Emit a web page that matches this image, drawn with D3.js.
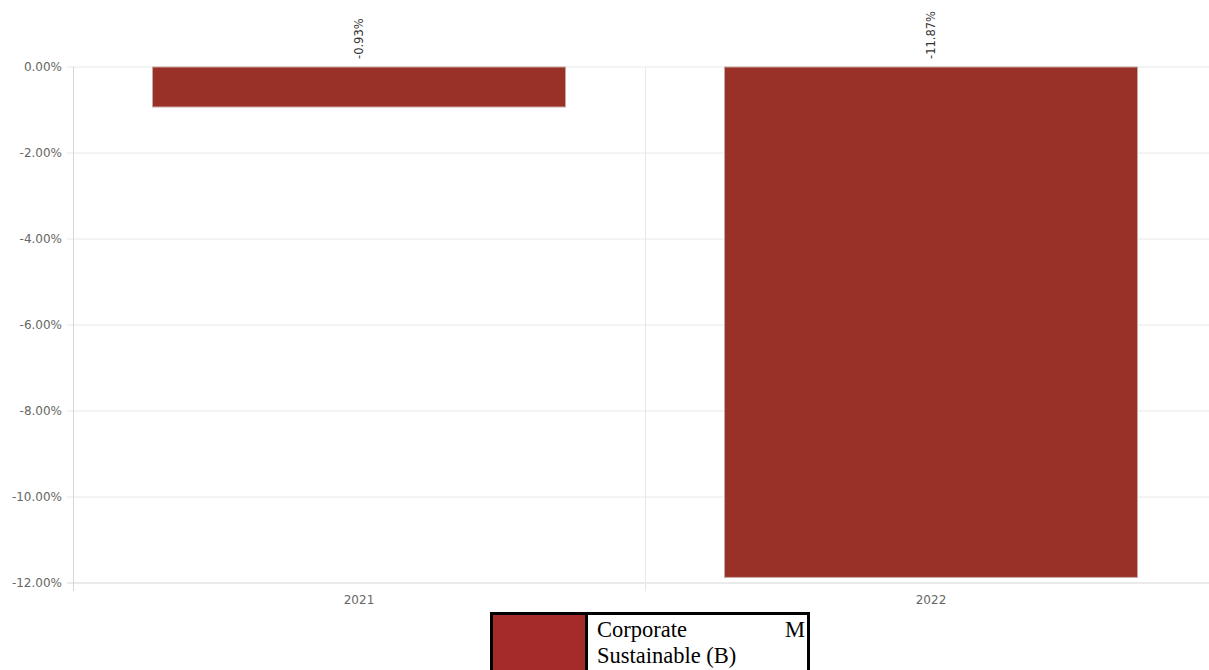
<!DOCTYPE html>
<html>
<head>
<meta charset="utf-8">
<script src="https://cdn.jsdelivr.net/npm/d3@7"></script>
<style>
    body { margin: 0; overflow: hidden; background: #fff; }
    #wrapper { position: relative; width: 1209px; height: 670px; }
    .legend {
        position: absolute;
        left: 490px;
        top: 612px;
        border-collapse: collapse;
        border: 3px solid #000;
        font-family: "Liberation Serif", serif;
        font-size: 22.5px;
        line-height: 26px;
    }
    .legend td { border: 3px solid #000; padding: 0; vertical-align: top; }
    .legend .swatch { width: 92px; height: 60px; background: #a52a2a; }
    .legend .label { width: 208px; padding: 2px 2px 0 9px; text-align: justify; }
</style>
</head>
<body>
<div id="wrapper"></div>
<script>
const years = ["2021", "2022"];
const values = [-0.93, -11.87];
const yTicks = [0, -2, -4, -6, -8, -10, -12];
const seriesName = "Corporate M Sustainable (B)";

let dimension = {
    width: 1209,
    height: 670,
    margin: { top: 67, left: 73, bottom: 87, right: -8 }
}
dimension.boundedWidth = dimension.width - dimension.margin.left - dimension.margin.right;
dimension.boundedHeight = dimension.height - dimension.margin.top - dimension.margin.bottom;

const pct = d => d.toFixed(2) + "%";

function buildPlot() {
    const wrapper = d3.select("#wrapper");

    const svg = wrapper.append("svg")
        .attr("width", dimension.width)
        .attr("height", dimension.height)
        .style("position", "absolute")
        .style("left", 0)
        .style("top", 0);

    const bounds = svg.append("g")
        .attr("transform", `translate(${dimension.margin.left},${dimension.margin.top})`);

    const xScale = d3.scaleBand()
        .domain(years)
        .range([0, dimension.boundedWidth])
        .paddingInner(0.278)
        .paddingOuter(0.139);

    const band = d3.scaleBand()
        .domain(years)
        .range([0, dimension.boundedWidth]);

    const yScale = d3.scaleLinear()
        .domain([0, -12])
        .range([0, dimension.boundedHeight]);

    // horizontal grid
    bounds.append("g")
        .selectAll("line")
        .data(yTicks)
        .enter()
        .append("line")
        .attr("x1", -6)
        .attr("x2", dimension.boundedWidth)
        .attr("y1", d => yScale(d))
        .attr("y2", d => yScale(d))
        .attr("stroke", d => d === -12 ? "#d6d6d6" : "#e8e8e8")
        .attr("stroke-width", 1);

    // vertical grid at band edges
    bounds.append("g")
        .selectAll("line")
        .data(years)
        .enter()
        .append("line")
        .attr("x1", d => Math.round(band(d)) + 0.5)
        .attr("x2", d => Math.round(band(d)) + 0.5)
        .attr("y1", 0)
        .attr("y2", dimension.boundedHeight + 8)
        .attr("stroke", (d, i) => i === 0 ? "#d6d6d6" : "#e8e8e8");

    const yAxis = bounds.append("g")
        .call(d3.axisLeft(yScale).tickValues(yTicks).tickSize(0).tickPadding(11)
            .tickFormat(pct));
    yAxis.select(".domain").remove();
    yAxis.selectAll("text")
        .attr("fill", "#666")
        .style("font-family", "'DejaVu Sans', sans-serif")
        .style("font-size", "12px");

    const xAxis = bounds.append("g")
        .attr("transform", `translate(0,${dimension.boundedHeight})`)
        .call(d3.axisBottom(band).tickSize(0).tickPadding(12));
    xAxis.select(".domain").remove();
    xAxis.selectAll("text")
        .attr("fill", "#666")
        .style("font-family", "'DejaVu Sans', sans-serif")
        .style("font-size", "12px");

    const rows = years.map((y, i) => ({ year: y, value: values[i] }));

    bounds.selectAll("rect.bar")
        .data(rows)
        .enter()
        .append("rect")
        .attr("class", "bar")
        .attr("x", d => xScale(d.year))
        .attr("y", d => yScale(0))
        .attr("width", xScale.bandwidth())
        .attr("height", d => yScale(d.value) - yScale(0))
        .attr("fill", "#993126")
        .attr("stroke", "#c8a8a4")
        .attr("stroke-width", 1);

    bounds.selectAll("text.val")
        .data(rows)
        .enter()
        .append("text")
        .attr("class", "val")
        .attr("transform", d => `translate(${xScale(d.year) + xScale.bandwidth() / 2 + 4},${yScale(0) - 8}) rotate(-90)`)
        .attr("fill", "#333")
        .style("font-family", "'DejaVu Sans', sans-serif")
        .style("font-size", "11.5px")
        .text(d => pct(d.value));

    const table = wrapper.append("table").attr("class", "legend");
    const tr = table.append("tr");
    tr.append("td").attr("class", "swatch");
    tr.append("td").attr("class", "label").text(seriesName);
}

buildPlot()
</script>
</body>
</html>
